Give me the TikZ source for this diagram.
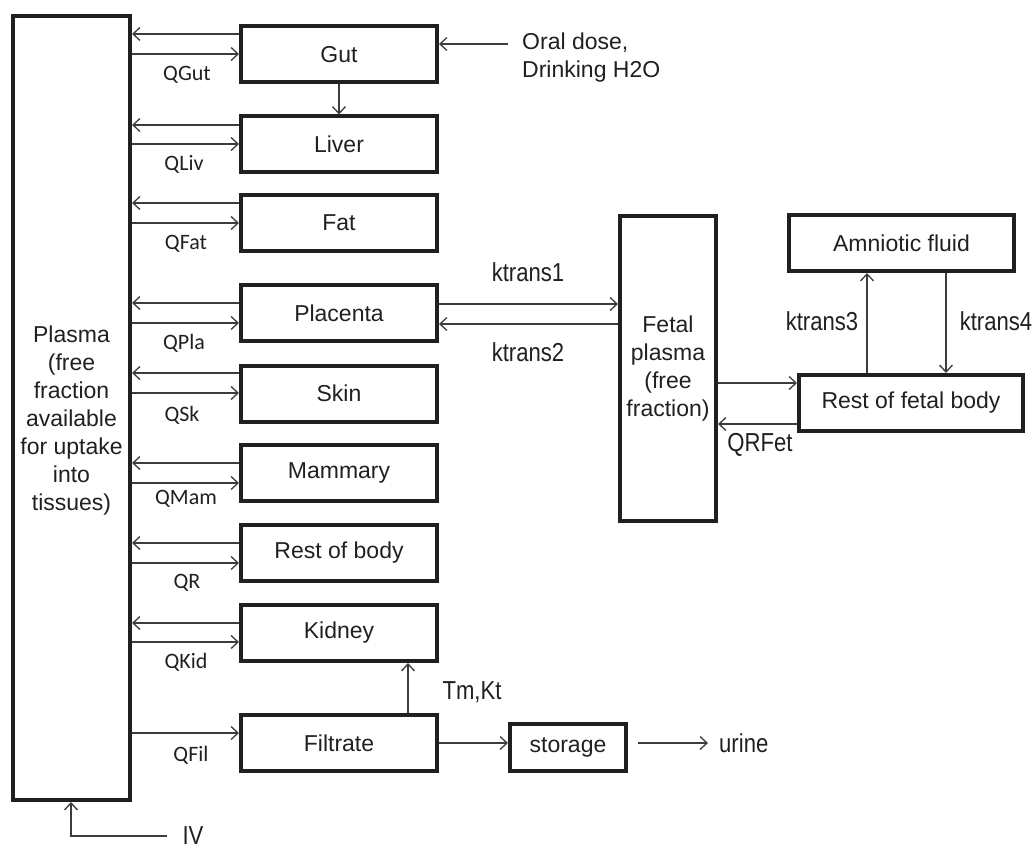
\documentclass[tikz,border=0pt]{standalone}
\usepackage{fontspec}
\setmainfont{Liberation Sans}
\newfontfamily\qfont{Carlito}
\newfontfamily\nfont{Liberation Sans}[FakeStretch=0.85]
\usetikzlibrary{arrows.meta}
\definecolor{ink}{HTML}{231F20}
\definecolor{wire}{HTML}{3C3C3C}
\begin{document}
\begin{tikzpicture}[x=1pt,y=-1pt,
  box/.style={draw=ink, line width=4pt, inner sep=0pt, text=ink,
    font=\fontsize{23}{28}\selectfont, align=center},
  organ/.style={box, minimum width=196pt, minimum height=56pt},
  arr/.style={draw=wire, line width=1.3pt, -{Straight Barb[length=7pt,width=13pt]}},
  qlab/.style={inner sep=0pt, text=ink, font=\qfont\fontsize{22}{26}\selectfont},
  nlab/.style={inner sep=0pt, text=ink, font=\nfont\fontsize{26}{30}\selectfont},
  plain/.style={inner sep=0pt, text=ink, font=\fontsize{23}{28}\selectfont, align=left}]
\useasboundingbox (0,0) rectangle (1035,850);
% plasma
\node[box, minimum width=117pt, minimum height=784pt] (plasma) at (71.5,408) {};
\node[plain, align=center] (plasmatext) at (71.5,421)
  {Plasma\\(free\\fraction\\available\\for uptake\\into\\tissues)};
% organs
\node[organ] (gut) at (339,54.5) {Gut};
\node[organ] (liver) at (339,144.5) {Liver};
\node[organ] (fat) at (339,223) {Fat};
\node[organ] (placenta) at (339,313) {Placenta};
\node[organ] (skin) at (339,393.5) {Skin};
\node[organ] (mammary) at (339,473) {Mammary};
\node[organ] (rest) at (339,553) {Rest of body};
\node[organ] (kidney) at (339,633) {Kidney};
\node[organ] (filtrate) at (339,743) {Filtrate};
\node[box, minimum width=116pt, minimum height=47pt] (storage) at (568,747.5) {storage};
% fetal
\node[box, minimum width=96pt, minimum height=305pt] (fetal) at (668,368.5)
  {Fetal\\plasma\\(free\\fraction)};
\node[box, minimum width=225pt, minimum height=56pt] (amnio) at (901.5,243) {Amniotic fluid};
\node[box, minimum width=224pt, minimum height=56pt] (restfet) at (911,403) {Rest of fetal body};
% plasma <-> organ arrows
\foreach \o/\a/\b in {gut/34/54, liver/125/144, fat/203/223, placenta/303/323,
  skin/373/393, mammary/463/483, rest/543/563, kidney/623/642}{
  \draw[arr] (\o.west |- 0,\a) -- (plasma.east |- 0,\a);
  \draw[arr] (plasma.east |- 0,\b) -- (\o.west |- 0,\b);
}
\draw[arr] (plasma.east |- 0,733) -- (filtrate.west |- 0,733);
% Q labels
\node[qlab] (qgut) at (187,75) {QGut};
\node[qlab] (qliv) at (184,164) {QLiv};
\node[qlab] (qfat) at (186,244) {QFat};
\node[qlab] (qpla) at (184,343) {QPla};
\node[qlab] (qsk) at (182,415) {QSk};
\node[qlab] (qmam) at (186,499) {QMam};
\node[qlab] (qr) at (187,583) {QR};
\node[qlab] (qkid) at (186,662) {QKid};
\node[qlab] (qfil) at (191,755) {QFil};
% oral dose
\node[plain, anchor=west] (oral) at (522,57.5) {Oral dose,\\Drinking H2O};
\coordinate (oral0) at (508,44);
\draw[arr] (oral0) -- (gut.east |- oral0);
% gut -> liver
\draw[arr] (gut) -- (liver);
% placenta <-> fetal
\draw[arr] (placenta.east |- 0,304) -- (fetal.west |- 0,304);
\draw[arr] (fetal.west |- 0,324) -- (placenta.east |- 0,324);
\node[nlab] (kt1) at (528,272) {ktrans1};
\node[nlab] (kt2) at (528,352) {ktrans2};
% fetal <-> rest of fetal body
\draw[arr] (fetal.east |- 0,383) -- (restfet.west |- 0,383);
\draw[arr] (restfet.west |- 0,424) -- (fetal.east |- 0,424);
\node[nlab] (qrfet) at (760,445) {QRFet};
% rest fetal <-> amniotic
\draw[arr] (restfet.north -| 867,0) -- (amnio.south -| 867,0);
\draw[arr] (amnio.south -| 946,0) -- (restfet.north -| 946,0);
\node[nlab] (kt3) at (822,321) {ktrans3};
\node[nlab] (kt4) at (996,321) {ktrans4};
% filtrate
\draw[arr] (filtrate.north -| 408,0) -- (kidney.south -| 408,0);
\node[nlab] (tmkt) at (472,692) {Tm,Kt};
\draw[arr] (filtrate.east |- 0,743) -- (storage.west |- 0,743);
\node[nlab, anchor=west] (urine) at (719,743) {urine};
\coordinate (urine0) at (638,743);
\draw[arr] (urine0) -- ([xshift=-11pt]urine.west);
% IV
\node[nlab] (iv) at (193,836) {IV};
\draw[arr] ([xshift=-15pt]iv.west) -| (plasma.south -| 71,0);
\end{tikzpicture}
\end{document}
